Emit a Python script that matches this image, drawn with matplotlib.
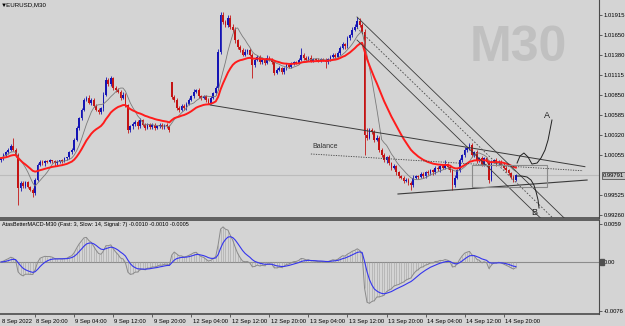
import numpy as np
import pandas as pd
import matplotlib
matplotlib.use("Agg")
import matplotlib.pyplot as plt
import matplotlib.transforms as mtransforms
from matplotlib.patches import Rectangle

# -----------------------------------------------------------
# EURUSD M30 - closes per bar (8 Sep 13:00 .. 14 Sep 22:30)
# -----------------------------------------------------------
closes = [
    1.0002, 1.0006, 1.0010, 1.0013, 1.0018, 1.0013, 1.0006, 0.9962, 0.9969, 0.9965,
    0.9970, 0.9964, 0.9960, 0.9956, 0.9973, 0.9993, 0.9997, 0.9995, 0.9998, 0.9997,
    0.9999, 0.9998, 0.9995, 0.9997, 0.9999, 0.9998, 1.0002, 1.0003, 1.0010, 1.0013,
    1.0026, 1.0042, 1.0055, 1.0066, 1.0079, 1.0082, 1.0075, 1.0079, 1.0071, 1.0066,
    1.0063, 1.0068, 1.0086, 1.0105, 1.0100, 1.0108, 1.0095, 1.0092, 1.0090, 1.0082,
    1.0086, 1.0072, 1.0039, 1.0044, 1.0047, 1.0050, 1.0044, 1.0052, 1.0046, 1.0042,
    1.0047, 1.0043, 1.0046, 1.0042, 1.0044, 1.0046, 1.0043, 1.0046, 1.0044, 1.0039,
    1.0083, 1.0079, 1.0068, 1.0066, 1.0071, 1.0068, 1.0074, 1.0079, 1.0084, 1.0090,
    1.0092, 1.0084, 1.0082, 1.0084, 1.0079, 1.0075, 1.0082, 1.0088, 1.0095, 1.0143,
    1.0192, 1.0182, 1.0178, 1.0188, 1.0176, 1.0172, 1.0158, 1.0149, 1.0145, 1.0139,
    1.0143, 1.0145, 1.0139, 1.0125, 1.0132, 1.0136, 1.0129, 1.0132, 1.0128, 1.0135,
    1.0132, 1.0129, 1.0115, 1.0119, 1.0121, 1.0116, 1.0121, 1.0125, 1.0123, 1.0127,
    1.0129, 1.0128, 1.0132, 1.0139, 1.0135, 1.0132, 1.0135, 1.0131, 1.0133, 1.0132,
    1.0131, 1.0133, 1.0132, 1.0129, 1.0133, 1.0136, 1.0139, 1.0136, 1.0141, 1.0148,
    1.0153, 1.0150, 1.0161, 1.0165, 1.0172, 1.0176, 1.0184, 1.0178, 1.0169, 1.0033,
    1.0029, 1.0039, 1.0037, 1.0026, 1.0029, 1.0013, 1.0006, 0.9999, 1.0003, 0.9995,
    0.9989, 0.9991, 0.9983, 0.9978, 0.9976, 0.9972, 0.9973, 0.9969, 0.9966, 0.9976,
    0.9978, 0.9977, 0.9981, 0.9978, 0.9983, 0.9982, 0.9986, 0.9983, 0.9989, 0.9987,
    0.9991, 0.9989, 0.9994, 0.9990, 0.9986, 0.9966, 0.9976, 0.9986, 0.9999, 1.0006,
    1.0013, 1.0015, 1.0019, 1.0006, 1.0010, 0.9999, 1.0002, 0.9994, 1.0002, 0.9997,
    0.9973, 0.9997, 0.9999, 0.9995, 0.9997, 0.9993, 0.9989, 0.9986, 0.9982, 0.9977,
    0.9973, 0.99791,
]
# opens that differ from the previous close (first bar, Monday gap)
gap_opens = {0: 0.9999, 70: 1.0103}

# wicks in pips beyond the body
upper_wick = [
    2, 3, 2, 2, 3, 11, 2, 3, 2, 3, 2, 2, 1, 2, 2, 3, 2, 2, 1, 2,
    2, 1, 2, 2, 1, 2, 2, 1, 2, 2, 2, 3, 2, 2, 3, 2, 3, 2, 2, 3,
    2, 2, 3, 4, 3, 3, 2, 2, 3, 2, 3, 2, 2, 2, 3, 2, 2, 3, 2, 2,
    2, 1, 2, 2, 1, 2, 2, 1, 2, 2, 0, 2, 2, 3, 2, 3, 2, 2, 2, 3,
    2, 3, 2, 2, 2, 3, 2, 2, 3, 3, 3, 3, 3, 4, 3, 3, 3, 2, 3, 3,
    3, 2, 3, 2, 3, 3, 2, 3, 2, 3, 2, 3, 2, 2, 3, 2, 2, 3, 2, 2,
    2, 2, 3, 9, 2, 2, 2, 3, 2, 2, 3, 2, 2, 2, 2, 3, 2, 2, 3, 2,
    3, 2, 3, 2, 3, 3, 5, 3, 3, 4, 9, 3, 3, 2, 3, 2, 2, 3, 2, 3,
    2, 3, 2, 2, 2, 2, 3, 2, 2, 3, 2, 2, 3, 2, 2, 3, 2, 2, 3, 2,
    2, 3, 5, 2, 3, 2, 3, 2, 3, 2, 3, 2, 3, 3, 2, 3, 2, 3, 2, 2,
    3, 2, 2, 3, 2, 2, 2, 2, 2, 2, 2, 2,
]
lower_wick = [
    2, 2, 3, 2, 2, 2, 3, 22, 3, 2, 3, 2, 2, 6, 3, 2, 2, 2, 3, 2,
    2, 2, 3, 2, 2, 2, 1, 2, 2, 2, 2, 2, 3, 2, 2, 2, 2, 3, 2, 2,
    3, 2, 3, 2, 3, 2, 3, 2, 2, 3, 2, 3, 4, 2, 3, 2, 3, 2, 2, 3,
    2, 2, 2, 3, 2, 2, 2, 2, 2, 3, 3, 3, 2, 3, 2, 2, 2, 2, 2, 2,
    2, 2, 3, 2, 3, 2, 2, 2, 2, 3, 3, 2, 3, 2, 3, 3, 3, 2, 3, 2,
    2, 3, 2, 17, 2, 2, 3, 2, 3, 2, 2, 3, 3, 2, 2, 3, 2, 2, 2, 2,
    2, 2, 2, 2, 3, 2, 2, 2, 2, 2, 2, 2, 2, 8, 2, 2, 2, 2, 2, 2,
    2, 3, 2, 2, 2, 2, 2, 2, 3, 27, 3, 2, 3, 3, 2, 3, 3, 2, 3, 2,
    3, 2, 3, 2, 2, 3, 2, 3, 6, 2, 2, 3, 2, 2, 3, 2, 2, 3, 2, 2,
    3, 2, 2, 2, 3, 6, 2, 2, 2, 2, 2, 3, 2, 3, 2, 3, 2, 3, 2, 2,
    4, 2, 2, 3, 2, 2, 2, 3, 2, 3, 3, 2,
]

price_ticks = [1.01915, 1.01650, 1.01380, 1.01115, 1.00850, 1.00585,
               1.00320, 1.00055, 0.99525, 0.99260]
bid = 0.99791
macd_ticks = [0.0059, 0.0, -0.0076]
macd_tick_labels = ["0.0059", "0.00", "-0.0076"]
macd_header = "AtasBetterMACD-M30 (Fast: 3, Slow: 14, Signal: 7) -0.0010 -0.0010 -0.0005"

time_ticks = [-2, 14, 30, 46, 62, 78, 94, 110, 126, 142, 158, 174, 190, 206]
time_labels = ["8 Sep 2022", "8 Sep 20:00", "9 Sep 04:00", "9 Sep 12:00",
               "9 Sep 20:00", "12 Sep 04:00", "12 Sep 12:00", "12 Sep 20:00",
               "13 Sep 04:00", "13 Sep 12:00", "13 Sep 20:00", "14 Sep 04:00",
               "14 Sep 12:00", "14 Sep 20:00"]

# drawn objects (bar index, price)
trend_x, trend_y = [85.7, 239.3], [1.00723, 0.99906]
chan_x = [145.9, 245.0]
chan_upper = [1.01889, 0.98781]
chan_mid = [1.01743, 0.98635]
chan_lower = [1.01584, 0.98476]
balance_x, balance_y = [127.0, 238.5], [1.00074, 0.99852]
support_x, support_y = [162.7, 240.2], [0.99544, 0.99729]
box_x, box_y = [192.9, 223.9], [0.99632, 0.99928]
path_a_x = [211.5, 212.7, 214.3, 216.0, 217.6, 219.7, 221.3, 222.95, 224.2, 225.0, 225.8]
path_a_y = [0.99954, 1.00047, 1.00087, 1.00034, 0.99941, 0.99954, 1.00020,
            1.00126, 1.00259, 1.00391, 1.00524]
path_b_x = [211.5, 213.5, 215.6, 217.2, 218.4, 219.3, 220.1, 220.5]
path_b_y = [0.99782, 0.99782, 0.99769, 0.99729, 0.99663, 0.99570, 0.99464, 0.99358]

# -----------------------------------------------------------
# Series
# -----------------------------------------------------------
c = np.array(closes)
o = np.r_[c[0], c[:-1]]
for k, v in gap_opens.items():
    o[k] = v
hi = np.maximum(o, c) + np.array(upper_wick) * 0.0001
lo = np.minimum(o, c) - np.array(lower_wick) * 0.0001
idx = np.arange(len(c))

s = pd.Series(c)
ma_slow = s.ewm(span=21, adjust=False).mean()
ma_fast = s.rolling(8, min_periods=1).mean()
macd = s.ewm(span=3, adjust=False).mean() - s.ewm(span=14, adjust=False).mean()
signal = macd.ewm(span=7, adjust=False).mean()

# -----------------------------------------------------------
# Figure
# -----------------------------------------------------------
bg = "#d4d4d4"
plt.rcParams["font.family"] = ["Liberation Sans", "DejaVu Sans"]
W, H = 625, 326
fig = plt.figure(figsize=(6.25, 3.26), dpi=100, facecolor=bg)
ax = fig.add_axes([0, 1 - 218 / H, 599 / W, 218 / H], facecolor=bg)
ax2 = fig.add_axes([0, 1 - 314 / H, 599 / W, 94 / H], facecolor=bg)

xlim = (-0.41, 245.08)
for a in (ax, ax2):
    a.set_xlim(*xlim)
    for sp in ("top", "left"):
        a.spines[sp].set_visible(False)
    a.spines["right"].set_color("#4a4a4a")
    a.spines["right"].set_linewidth(0.8)
    a.spines["bottom"].set_color("#4a4a4a")
    a.spines["bottom"].set_linewidth(1.2)
ax2.spines["top"].set_visible(True)
ax2.spines["top"].set_color("#4a4a4a")
ax2.spines["top"].set_linewidth(1.2)

ax.set_ylim(0.99226, 1.02114)
ax2.set_ylim(-0.00807, 0.00652)

# candles
bull, bear = "#1414b4", "#c41414"
cols = np.where(c >= o, bull, bear)
ax.vlines(idx, lo, hi, colors=cols, lw=0.6, zorder=3)
ax.bar(idx, np.maximum(np.abs(c - o), 0.00004), bottom=np.minimum(o, c),
       width=0.72, color=cols, linewidth=0, zorder=3)

ax.plot(idx, ma_fast, color="#7a7a7a", lw=0.6, zorder=4)
ax.plot(idx, ma_slow, color="#ff1c1c", lw=1.4, zorder=5)
ax.axhline(bid, color="#bcbcbc", lw=0.8, zorder=1)

# watermark and title
ax.text(0.866, 0.78, "M30", transform=ax.transAxes, fontsize=36,
        fontweight="bold", color="#c0c0c0", ha="center", va="center", zorder=0)
ax.text(0.002, 0.978, "\u25bcEURUSD,M30", transform=ax.transAxes, fontsize=4.4,
        va="center", ha="left")

# drawn objects
line_col = "#3a3a3a"
ax.plot(trend_x, trend_y, color=line_col, lw=0.7, zorder=6)
ax.plot(chan_x, chan_upper, color=line_col, lw=0.6, zorder=6)
ax.plot(chan_x, chan_lower, color=line_col, lw=0.6, zorder=6)
ax.plot(chan_x, chan_mid, color="#4a4a4a", lw=0.6, ls=(0, (2, 2)), zorder=6)
ax.plot(balance_x, balance_y, color="#404040", lw=0.6, ls=(0, (1.5, 1.5)), zorder=6)
ax.text(127.5, 1.00167, "Balance", fontsize=5, color="#333333", va="center", ha="left")
ax.plot(support_x, support_y, color=line_col, lw=0.8, zorder=6)
ax.add_patch(Rectangle((box_x[0], box_y[0]), box_x[1] - box_x[0], box_y[1] - box_y[0],
                       fill=False, edgecolor="#8a8a8a", lw=0.8, zorder=6))
ax.plot(path_a_x, path_a_y, color="#202020", lw=0.7, zorder=7)
ax.plot(path_b_x, path_b_y, color="#202020", lw=0.7, zorder=7)
ax.text(223.8, 1.00590, "A", fontsize=6.5, color="#202020", ha="center", va="center")
ax.text(218.4, 0.99305, "B", fontsize=6.5, color="#202020", ha="center", va="center")

# price scale
ax.set_xticks([])
ax.set_yticks(price_ticks)
ax.set_yticklabels([f"{p:.5f}" for p in price_ticks])
ax.tick_params(axis="y", left=False, labelleft=False, right=True, labelright=True,
               length=2, width=0.6, pad=1.2, labelsize=4.2, colors="#4a4a4a",
               labelcolor="black")
trans = mtransforms.blended_transform_factory(ax.transAxes, ax.transData)
ax.text(1.006, bid, f"{bid:.5f}", transform=trans, fontsize=4.2, va="center",
        ha="left", bbox=dict(boxstyle="square,pad=0.15", fc="#c4c4c4", ec="#3a3a3a", lw=0.5))

# MACD panel
ax2.vlines(idx, 0, macd, colors="#a2a2a2", lw=0.4, zorder=2)
ax2.axhline(0, color="#8c8c8c", lw=0.8, zorder=1)
ax2.plot(idx, macd, color="#8a8a8a", lw=0.7, zorder=3)
ax2.plot(idx, signal, color="#3535ee", lw=0.8, zorder=4)
ax2.text(0.003, 0.952, macd_header, transform=ax2.transAxes, fontsize=4,
         va="center", ha="left")
ax2.set_yticks(macd_ticks)
ax2.set_yticklabels(macd_tick_labels)
ax2.tick_params(axis="y", left=False, labelleft=False, right=True, labelright=True,
                length=2, width=0.6, pad=1.2, labelsize=4.2, colors="#4a4a4a",
                labelcolor="black")
fig.patches.append(Rectangle((600 / W, 1 - 265 / H), 3.5 / W, 6 / H, color="#505050",
                             transform=fig.transFigure, figure=fig))

# time scale
ax2.set_xticks([t for t in time_ticks if t >= 0])
ax2.tick_params(axis="x", bottom=True, labelbottom=False, length=2.5, width=0.6,
                colors="#4a4a4a")
ttrans = mtransforms.blended_transform_factory(ax2.transData, ax2.transAxes)
for t, lab in zip(time_ticks, time_labels):
    # first label is pinned to the left edge so it stays readable
    tx = max(t + 0.5, 0.3)
    ax2.text(tx, -0.075, lab, transform=ttrans, fontsize=4.2, va="center",
             ha="left", clip_on=False)

fig.savefig("out.png", dpi=100, facecolor=bg)
